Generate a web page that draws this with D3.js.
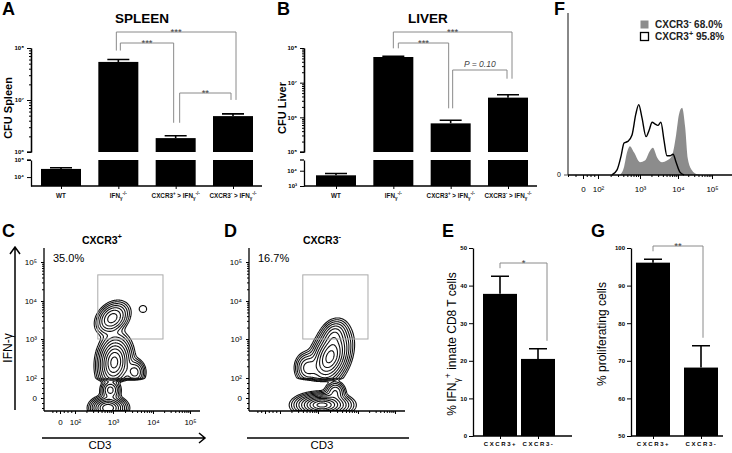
<!DOCTYPE html>
<html><head><meta charset="utf-8">
<script src="https://cdn.jsdelivr.net/npm/d3@7"></script>
<style>
body{margin:0;background:#fff}
svg{display:block}
text{font-family:"Liberation Sans",Arial,Helvetica,sans-serif}
</style>
</head><body>
<svg id="c" width="732" height="453"></svg>
<script>
// ---------------- DATA ----------------
const cfuGroups = ["WT", "IFN", "CXCR3+", "CXCR3-"];
const cfuLabelParts = [
  [["WT", ""]],
  [["IFN", ""], ["γ", "sub"], ["-/-", "sup"]],
  [["CXCR3", ""], ["+", "sup"], [" > IFN", ""], ["γ", "sub"], ["-/-", "sup"]],
  [["CXCR3", ""], ["-", "sup"], [" > IFN", ""], ["γ", "sub"], ["-/-", "sup"]]
];
const spleenMean = [3.0e4, 5.4e7, 1.85e6, 4.9e6];
const spleenSem  = [5.0e3, 6.0e6, 2.0e5, 5.0e5];
const liverMean  = [5.0e3, 5.5e7, 6.7e5, 3.7e6];
const liverSem   = [1.5e3, 2.5e6, 1.5e5, 8.0e5];
const spleenStats = [["IFN", "CXCR3+", "***"], ["IFN", "CXCR3-", "***"], ["CXCR3+", "CXCR3-", "**"]];
const liverStats  = [["IFN", "CXCR3+", "***"], ["IFN", "CXCR3-", "***"], ["CXCR3+", "CXCR3-", "P = 0.10"]];

const cellGroups = ["CXCR3+", "CXCR3-"];
const ifnMean = [37.8, 20.5];
const ifnSem  = [4.7, 2.7];
const prolifMean = [96.1, 68.2];
const prolifSem  = [0.9, 5.8];

// flow axis ticks (display units: 0 means value 0, n means 10^n)
const flowTicks = [0, 2, 3, 4, 5];
const flowTickLabels = ["0", "10²", "10³", "10⁴", "10⁵"];

// histogram (F): x in display decades, y in % of max
const histNegX = [2.52, 2.62, 2.69, 2.76, 2.86, 3.0, 3.13, 3.26, 3.34, 3.45, 3.58, 3.71, 3.84, 3.95, 4.03, 4.12, 4.21, 4.29, 4.41, 4.56, 4.71];
const histNegY = [0, 5, 14, 18, 14, 8, 9, 15, 17, 11, 8, 9, 12, 25, 38, 42, 30, 10, 3, 0.5, 0];
const histPosX = [2.33, 2.45, 2.55, 2.62, 2.71, 2.81, 2.90, 2.97, 3.05, 3.16, 3.24, 3.32, 3.39, 3.47, 3.55, 3.63, 3.71, 3.79, 3.87, 3.95, 4.05, 4.18];
const histPosY = [0, 3, 12, 20, 21, 25, 38, 44, 36, 24, 28, 33, 32, 31, 33, 22, 12, 12, 13, 8, 2, 0];
const histLegend = [["CXCR3", "-", " 68.0%"], ["CXCR3", "+", " 95.8%"]];

// contour populations: [x, y, sdx, sdy, rho, weight] in display decades
const popsC = [
  [2.98, 3.55, 0.19, 0.19, 0.3, 0.45],
  [3.03, 2.4, 0.19, 0.3, 0.1, 1.0],
  [3.55, 2.15, 0.12, 0.15, 0.0, 0.3],
  [2.93, 0.8, 0.12, 0.5, 0.0, 0.3],
  [2.87, -1.0, 0.2, 0.5, 0.0, 0.9],
  [3.75, 3.79, 0.1, 0.1, 0.0, 0.03]
];
const popsD = [
  [3.3, 2.54, 0.22, 0.32, 0.35, 1.0],
  [3.4, 3.12, 0.15, 0.18, 0.2, 0.25],
  [2.72, 2.26, 0.15, 0.18, 0.0, 0.3],
  [3.43, 0.6, 0.12, 0.5, 0.0, 0.25],
  [3.1, -0.7, 0.3, 0.5, 0.0, 1.2]
];
const contourLevels = [0.02, 0.035, 0.06, 0.1, 0.16, 0.25, 0.37, 0.52, 0.7, 0.9, 1.1];
const gateC = [2.6, 4.27, 3.0, 4.67];
const gateD = [2.6, 4.27, 3.0, 4.67];
const pctC = "35.0%";
const pctD = "16.7%";

// ---------------- HELPERS ----------------
const svg = d3.select("#c");
const supDigits = {2: "²", 3: "³", 4: "⁴", 5: "⁵", 6: "⁶", 7: "⁷", 8: "⁸"};
const logSup = d => "10" + supDigits[Math.round(Math.log10(d))];

function rich(t, parts, fs) {
  let cur = 0;
  parts.forEach(([s, k]) => {
    const off = k === "sup" ? -fs * 0.45 : k === "sub" ? fs * 0.3 : 0;
    t.append("tspan").attr("dy", off - cur).attr("font-size", k ? fs * 0.72 : fs).text(s);
    cur = off;
  });
  return t;
}
function letter(x, y, s) {
  svg.append("text").attr("x", x).attr("y", y).attr("font-size", 18).attr("font-weight", "bold").text(s);
}
function bracket(x1, x2, yTop, y1b, y2b, label) {
  svg.append("path").attr("d", `M${x1},${y1b}V${yTop}H${x2}V${y2b}`)
    .attr("fill", "none").attr("stroke", "#8a8a8a").attr("stroke-width", 1);
  const it = label.startsWith("P");
  svg.append("text").attr("x", (x1 + x2) / 2).attr("y", it ? yTop - 3 : yTop + 3)
    .attr("text-anchor", "middle").attr("font-size", it ? 8.5 : 9.5)
    .attr("font-style", it ? "italic" : null).attr("fill", "#444").text(label);
}
function styleAxis(g, fs, bold) {
  g.selectAll("path.domain").attr("stroke", "#000").attr("stroke-width", 1.3);
  g.selectAll(".tick line").attr("stroke", "#000").attr("stroke-width", 1);
  g.selectAll(".tick text").attr("font-size", fs).attr("font-weight", bold ? "bold" : null)
    .attr("font-family", '"Liberation Sans",Arial,sans-serif').attr("fill", "#000");
}
function minorsLog(dom) {
  const out = [];
  const lo = Math.floor(Math.log10(dom[0])), hi = Math.ceil(Math.log10(dom[1]));
  for (let e = lo; e <= hi; e++) for (let k = 2; k <= 9; k++) {
    const v = k * Math.pow(10, e);
    if (v > dom[0] && v < dom[1]) out.push(v);
  }
  return out;
}

// ---------------- CFU PANELS (A, B) ----------------
function cfuPanel(o) {
  const x = d3.scalePoint().domain(cfuGroups).range(o.xr);
  const yU = d3.scaleLog().domain(o.upDom).range([o.upBot, o.upTop]);
  const yL = d3.scaleLog().domain(o.loDom).range([o.loBot, o.loTop]);
  const bw = 40;
  const errTop = [];
  o.mean.forEach((m, i) => {
    const cx = x(cfuGroups[i]);
    if (m > o.upDom[0]) {
      svg.append("rect").attr("x", cx - bw / 2).attr("y", yU(m)).attr("width", bw)
        .attr("height", yU(o.upDom[0]) - yU(m)).attr("fill", "#000");
    }
    const lt = yL(Math.min(m, o.loDom[1]));
    svg.append("rect").attr("x", cx - bw / 2).attr("y", lt).attr("width", bw)
      .attr("height", o.loBot - lt).attr("fill", "#000");
    const sc = m > o.upDom[0] ? yU : yL;
    const e = sc(m + o.sem[i]);
    errTop.push(e);
    svg.append("path").attr("d", `M${cx},${sc(m)}V${e}M${cx - 11},${e}H${cx + 11}`)
      .attr("stroke", "#000").attr("stroke-width", 1.6).attr("fill", "none");
  });
  const gU = svg.append("g").attr("transform", `translate(${o.ax},0)`)
    .call(d3.axisLeft(yU).tickValues(o.upMajor).tickFormat(logSup).tickSize(4).tickSizeOuter(0));
  styleAxis(gU, 6, true);
  const gUm = svg.append("g").attr("transform", `translate(${o.ax},0)`)
    .call(d3.axisLeft(yU).tickValues(minorsLog(o.upDom)).tickFormat("").tickSize(2).tickSizeOuter(0));
  styleAxis(gUm, 6, true);
  const gL = svg.append("g").attr("transform", `translate(${o.ax},0)`)
    .call(d3.axisLeft(yL).tickValues(o.loMajor).tickFormat(logSup).tickSize(4).tickSizeOuter(0));
  styleAxis(gL, 6, true);
  svg.append("line").attr("x1", o.ax - 4).attr("x2", o.ax).attr("y1", o.loTop).attr("y2", o.loTop).attr("stroke", "#000").attr("stroke-width", 1.3);
  svg.append("line").attr("x1", o.ax - 4).attr("x2", o.ax).attr("y1", o.upBot).attr("y2", o.upBot).attr("stroke", "#000").attr("stroke-width", 1.3);
  svg.append("line").attr("x1", o.ax).attr("x2", o.axEnd).attr("y1", o.loBot).attr("y2", o.loBot)
    .attr("stroke", "#000").attr("stroke-width", 1.3);
  const gX = svg.append("g").attr("transform", `translate(0,${o.loBot})`)
    .call(d3.axisBottom(x).tickSize(3).tickFormat(""));
  gX.select("path.domain").remove();
  styleAxis(gX, 6, true);
  cfuGroups.forEach((gname, i) => {
    const t = svg.append("text").attr("x", x(gname)).attr("y", o.loBot + 12)
      .attr("text-anchor", "middle").attr("font-weight", "bold").attr("fill", "#111");
    rich(t, cfuLabelParts[i], 6.3);
  });
  svg.append("text").attr("x", o.titleX).attr("y", 23).attr("text-anchor", "middle")
    .attr("font-size", 13.5).attr("font-weight", "bold").text(o.title);
  svg.append("text").attr("transform", `translate(${o.yTitleX},${o.yTitleY}) rotate(-90)`)
    .attr("text-anchor", "middle").attr("font-size", 11).attr("font-weight", "bold").text(o.yTitle);
  o.stats.forEach((s, k) => {
    const L = o.brLayout[k];
    const ia = cfuGroups.indexOf(s[0]), ib = cfuGroups.indexOf(s[1]);
    bracket(x(s[0]) + L[1], x(s[1]) + L[2], L[0], errTop[ia] - L[3], errTop[ib] - L[4], s[2]);
  });
}

cfuPanel({
  ax: 31, axEnd: 262, xr: [61, 233],
  upDom: [1e6, 1e8], upTop: 48, upBot: 152, upMajor: [1e6, 1e7, 1e8],
  loDom: [3e3, 1e5], loTop: 160, loBot: 186, loMajor: [1e4, 1e5],
  mean: spleenMean, sem: spleenSem, stats: spleenStats,
  brLayout: [[43, 2, -2, 9, 13], [32, -2, 3, 9, 14], [93, 4, -2, 13, 14]],
  title: "SPLEEN", titleX: 142, yTitle: "CFU Spleen", yTitleX: 12, yTitleY: 108
});
cfuPanel({
  ax: 304, axEnd: 537, xr: [336, 508],
  upDom: [1e5, 1e8], upTop: 48, upBot: 152, upMajor: [1e5, 1e6, 1e7, 1e8],
  loDom: [1e3, Math.pow(10, 4.7)], loTop: 160, loBot: 186, loMajor: [1e3, 1e4],
  mean: liverMean, sem: liverSem, stats: liverStats,
  brLayout: [[43, 5, -2, 8, 12], [32, 0, 4, 8, 16], [70, 2, -1, 12, 16]],
  title: "LIVER", titleX: 428, yTitle: "CFU Liver", yTitleX: 286, yTitleY: 108
});

// ---------------- SIMPLE BAR PANELS (E, G) ----------------
function cellPanel(o) {
  const x = d3.scalePoint().domain(cellGroups).range(o.xr);
  const y = d3.scaleLinear().domain(o.dom).range([436, 248]);
  const bw = 34;
  const errTop = [];
  o.mean.forEach((m, i) => {
    const cx = x(cellGroups[i]);
    svg.append("rect").attr("x", cx - bw / 2).attr("y", y(m)).attr("width", bw)
      .attr("height", y(o.dom[0]) - y(m)).attr("fill", "#000");
    const e = y(m + o.sem[i]);
    errTop.push(e);
    svg.append("path").attr("d", `M${cx},${y(m)}V${e}M${cx - 9},${e}H${cx + 9}`)
      .attr("stroke", "#000").attr("stroke-width", 1.6).attr("fill", "none");
  });
  const gY = svg.append("g").attr("transform", `translate(${o.ax},0)`)
    .call(d3.axisLeft(y).ticks(5).tickSize(4).tickSizeOuter(0).tickPadding(2));
  styleAxis(gY, 6, true);
  svg.append("line").attr("x1", o.ax).attr("x2", o.axEnd).attr("y1", 436).attr("y2", 436)
    .attr("stroke", "#000").attr("stroke-width", 1.3);
  const gX = svg.append("g").attr("transform", "translate(0,436)")
    .call(d3.axisBottom(x).tickSize(3).tickPadding(3));
  gX.select("path.domain").remove();
  styleAxis(gX, 6, true);
  gX.selectAll(".tick text").attr("letter-spacing", 1.6);
  const t = svg.append("text").attr("transform", `translate(${o.yTitleX},${o.yTitleY}) rotate(-90)`)
    .attr("text-anchor", "middle");
  rich(t, o.yTitle, 12);
  bracket(x(cellGroups[0]) + o.br[1], x(cellGroups[1]) + o.br[2], o.br[0], errTop[0] - o.br[3], errTop[1] - o.br[4], o.star);
}
cellPanel({ ax: 473, axEnd: 572, xr: [500, 538], dom: [0, 50], mean: ifnMean, sem: ifnSem,
  yTitle: [["% IFN", ""], ["γ", "sub"], ["+", "sup"], [" innate CD8 T cells", ""]], yTitleX: 456, yTitleY: 344,
  br: [263, 0, 9, 8, 8], star: "*" });
cellPanel({ ax: 631, axEnd: 723, xr: [653, 701], dom: [50, 100], mean: prolifMean, sem: prolifSem,
  yTitle: [["% proliferating cells", ""]], yTitleX: 606, yTitleY: 334,
  br: [246, 0, 2, 8, 8], star: "**" });

// ---------------- FLOW AXES HELPERS ----------------
function flowMinors() {
  const out = [];
  for (let e = 2; e < 5; e++) for (let k = 2; k <= 9; k++) out.push(e + Math.log10(k));
  out.push(1, 0.5, 1.5, -0.5, -1);
  return out;
}

// ---------------- HISTOGRAM (F) ----------------
(function () {
  const fx = d3.scaleLinear().domain([-1, 0, 2, 3, 4, 5, 5.6]).range([568, 583, 598, 640, 678, 712, 732]);
  const fy = d3.scaleLinear().domain([0, 100]).range([175, 15]);
  const area = d3.area().x((d, i) => fx(histNegX[i])).y0(fy(0)).y1(d => fy(d)).curve(d3.curveMonotoneX);
  svg.append("path").attr("d", area(histNegY)).attr("fill", "#8c8c8c");
  const line = d3.line().x((d, i) => fx(histPosX[i])).y(d => fy(d)).curve(d3.curveMonotoneX);
  svg.append("path").attr("d", line(histPosY)).attr("fill", "none").attr("stroke", "#000").attr("stroke-width", 1.4);
  svg.append("line").attr("x1", 568).attr("x2", 568).attr("y1", 13).attr("y2", 175).attr("stroke", "#888").attr("stroke-width", 2);
  svg.append("line").attr("x1", 564).attr("x2", 568).attr("y1", fy(0)).attr("y2", fy(0)).attr("stroke", "#555");
  svg.append("text").attr("x", 561).attr("y", fy(0) + 2).attr("text-anchor", "end").attr("font-size", 7).text("0");
  const gx = svg.append("g").attr("transform", "translate(0,175)")
    .call(d3.axisBottom(fx).tickValues(flowTicks).tickFormat((d, i) => flowTickLabels[i]).tickSize(4).tickSizeOuter(0).tickPadding(7));
  styleAxis(gx, 8, false);
  gx.select("path.domain").attr("d", "M568,0H732");
  const gm = svg.append("g").attr("transform", "translate(0,175)")
    .call(d3.axisBottom(fx).tickValues(flowMinors()).tickFormat("").tickSize(2));
  gm.select("path.domain").remove();
  styleAxis(gm, 8, false);
  histLegend.forEach((L, i) => {
    const yy = 20 + i * 12;
    svg.append("rect").attr("x", 640.5).attr("y", yy + 0.5).attr("width", 8).attr("height", 8)
      .attr("fill", i === 0 ? "#8c8c8c" : "#fff").attr("stroke", i === 0 ? "none" : "#000").attr("stroke-width", 1.3);
    const t = svg.append("text").attr("x", 655).attr("y", yy + 8).attr("font-weight", "bold").attr("fill", "#222");
    rich(t, [[L[0], ""], [L[1], "sup"], [L[2], ""]], 10);
  });
})();

// ---------------- CONTOUR PANELS (C, D) ----------------
function flowPanel(o) {
  const x = d3.scaleLinear().domain([-2.1, 0, 2, 3, 4, 5, 5.27]).range([0, 16, 31, 69, 109, 146, 156].map(v => v + o.ax));
  const y = d3.scaleLinear().domain([-1.3, 0, 2, 3, 4, 5, 5.35]).range([411, 398, 378, 339, 301, 262, 248]);
  const res = 0.5, W = 158, H = 163;
  const nx = Math.round(W / res), ny = Math.round(H / res);
  const vals = new Float64Array(nx * ny);
  for (let j = 0; j < ny; j++) {
    const yy = y.invert(248 + (j + 0.5) * res);
    for (let i = 0; i < nx; i++) {
      const xx = x.invert(o.ax + (i + 0.5) * res);
      let s = 0;
      o.pops.forEach(([cx, cy, sx, sy, r, w]) => {
        const zx = (xx - cx) / sx, zy = (yy - cy) / sy;
        s += w * Math.exp(-(zx * zx - 2 * r * zx * zy + zy * zy) / (2 * (1 - r * r)));
      });
      vals[j * nx + i] = s;
    }
  }
  const conts = d3.contours().size([nx, ny]).thresholds(contourLevels)(vals);
  const path = d3.geoPath(d3.geoIdentity().scale(res).translate([o.ax, 248]));
  const clipId = "clip" + o.ax;
  svg.append("clipPath").attr("id", clipId).append("rect")
    .attr("x", o.ax).attr("y", 248).attr("width", W).attr("height", 411 - 248);
  svg.append("g").attr("clip-path", `url(#${clipId})`).selectAll("path").data(conts).join("path")
    .attr("d", path).attr("fill", "none").attr("stroke", "#111").attr("stroke-width", 1.1);
  svg.append("rect").attr("x", x(o.gate[0])).attr("y", y(o.gate[3]))
    .attr("width", x(o.gate[1]) - x(o.gate[0])).attr("height", y(o.gate[2]) - y(o.gate[3]))
    .attr("fill", "none").attr("stroke", "#aaa").attr("stroke-width", 1);
  const gy = svg.append("g").attr("transform", `translate(${o.ax},0)`)
    .call(d3.axisLeft(y).tickValues(flowTicks).tickFormat((d, i) => flowTickLabels[i]).tickSize(3).tickSizeOuter(0).tickPadding(4));
  styleAxis(gy, 8, false);
  gy.select("path.domain").attr("d", "M0,248V411");
  const gym = svg.append("g").attr("transform", `translate(${o.ax},0)`)
    .call(d3.axisLeft(y).tickValues(flowMinors()).tickFormat("").tickSize(2));
  gym.select("path.domain").remove(); styleAxis(gym, 8, false);
  const gx = svg.append("g").attr("transform", "translate(0,411)")
    .call(d3.axisBottom(x).tickValues(flowTicks).tickFormat((d, i) => o.xLabels ? flowTickLabels[i] : "").tickSize(3).tickSizeOuter(0).tickPadding(5));
  styleAxis(gx, 8, false);
  gx.select("path.domain").attr("d", `M${o.ax},0H${o.ax + 156}`);
  const gxm = svg.append("g").attr("transform", "translate(0,411)")
    .call(d3.axisBottom(x).tickValues(flowMinors()).tickFormat("").tickSize(2));
  gxm.select("path.domain").remove(); styleAxis(gxm, 8, false);
  svg.append("text").attr("x", o.ax + 9).attr("y", 262).attr("font-size", 11).text(o.pct);
  const tt = svg.append("text").attr("x", o.ax + o.titleDx).attr("y", 244).attr("text-anchor", "middle").attr("font-weight", "bold");
  rich(tt, [["CXCR3", ""], [o.sign, "sup"]], 10.5);
  svg.append("path").attr("d", `M${o.ax - 2},438H${o.ax + 160}` + (o.arrow ? `M${o.ax + 155},433L${o.ax + 161},438L${o.ax + 155},443` : ""))
    .attr("fill", "none").attr("stroke", "#000").attr("stroke-width", 1.5);
  svg.append("text").attr("x", o.ax + o.cdDx).attr("y", 449).attr("text-anchor", "middle").attr("font-size", 11.5).text("CD3");
  if (o.arrow) {
    svg.append("path").attr("d", "M15,410V248M10,254L15,247L20,254").attr("fill", "none").attr("stroke", "#000").attr("stroke-width", 1.5);
    svg.append("text").attr("transform", "translate(12,348) rotate(-90)").attr("text-anchor", "middle").attr("font-size", 12).text("IFN-γ");
  }
}
flowPanel({ ax: 44, pops: popsC, gate: gateC, pct: pctC, sign: "+", arrow: true, xLabels: true, titleDx: 58, cdDx: 56 });
flowPanel({ ax: 249, pops: popsD, gate: gateD, pct: pctD, sign: "-", arrow: false, xLabels: false, titleDx: 73, cdDx: 73 });

// ---------------- PANEL LETTERS ----------------
letter(2, 15, "A"); letter(277, 15, "B"); letter(554, 15, "F");
letter(2, 237, "C"); letter(224, 237, "D"); letter(442, 237, "E"); letter(591, 237, "G");
</script>
</body></html>
